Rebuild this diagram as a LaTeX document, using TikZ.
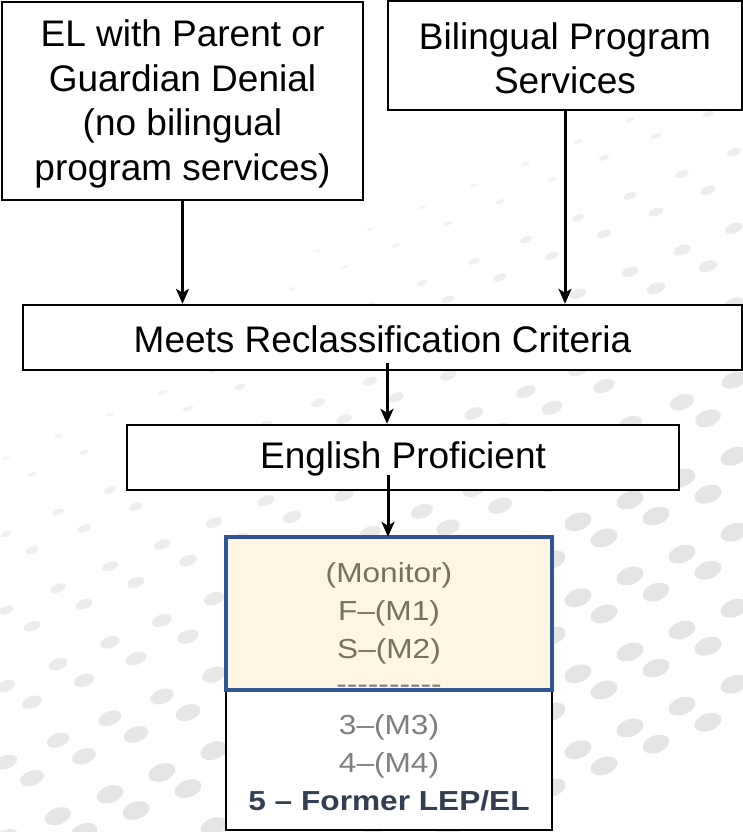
\documentclass[tikz,border=0pt]{standalone}
\usepackage{fontspec}
\setmainfont{Liberation Sans}
\newfontfamily\widefont{Liberation Sans}[FakeStretch=1.15]
\usetikzlibrary{arrows.meta}
\definecolor{bordblue}{HTML}{2F5597}
\definecolor{cream}{HTML}{FFF5E3}
\definecolor{olivegrey}{HTML}{77715F}
\definecolor{midgrey}{HTML}{7F7F7F}
\definecolor{navytext}{HTML}{333F50}
\begin{document}
\begin{tikzpicture}[x=1pt,y=-1pt,
  box/.style={draw=black, line width=2.4pt, fill=white, rectangle, inner sep=0pt},
  boxtext/.style={inner sep=0pt, align=center, font=\fontsize{37}{44.5}\selectfont},
  arr/.style={line width=3pt, -{Stealth[length=15pt,width=13pt,inset=4pt]}},
  monline/.style={anchor=base, inner sep=0pt, font=\widefont\fontsize{27.5}{38}\selectfont},
]
\useasboundingbox (0,0) rectangle (743,832);
\fill[white] (0,0) rectangle (743,832);
% background dot pattern
\begin{scope}
\clip (0,0) rectangle (743,832);
\foreach \k in {-8,...,26}{
 \foreach \m in {0,...,15}{
  \pgfmathsetmacro{\px}{\m*52 + mod(\k+8,2)*26 - 20}
  \pgfmathsetmacro{\py}{\k*38 + 40 - \m*52*0.42}
  \pgfmathsetmacro{\s}{min(1,max(0,(\py+0.6*\px-420)/450))}
  \ifdim \s pt > 0.04pt
    \pgfmathsetmacro{\rx}{3+11*\s}
    \pgfmathsetmacro{\ry}{0.6+8*\s}
    \pgfmathsetmacro{\cc}{4+6*\s}
    \fill[black!\cc, rotate around={20:(\px,\py)}] (\px,\py) ellipse ({\rx} and {\ry});
  \fi
 }
}
\end{scope}

% boxes
\node[box, minimum width=361pt, minimum height=198pt] (A) at (182.5,101) {};
\node[boxtext] (At) at (182.5,104)
  {EL with Parent or\\Guardian Denial\\(no bilingual\\program services)};
\node[box, minimum width=354pt, minimum height=109pt] (B) at (565,55.5) {};
\node[boxtext] (Bt) at (565,58.5) {Bilingual Program\\Services};
\node[box, minimum width=719pt, minimum height=65pt] (C) at (382.5,337.5) {};
\node[boxtext] (Ct) at (382.5,339) {Meets Reclassification Criteria};
\node[box, minimum width=552pt, minimum height=65pt] (D) at (403,457.5) {};
\node[boxtext] (Dt) at (403,459) {English Proficient};

% status box
\node[box, minimum width=326pt, minimum height=293pt] (F) at (389,683.5) {};
\node[fill=cream, minimum width=326pt, minimum height=153pt, inner sep=0pt] (E) at (389,613.5) {};
\node[monline, text=olivegrey] (m0) at (389,582) {(Monitor)};
\node[monline, text=olivegrey] (m1) at (389,620) {F–(M1)};
\node[monline, text=olivegrey] (m2) at (389,658) {S–(M2)};
\node[monline, text=midgrey] (m3) at (389,693.5) {----------};
\node[monline, text=midgrey] (m4) at (389,734) {3–(M3)};
\node[monline, text=midgrey] (m5) at (389,772) {4–(M4)};
\node[monline, text=navytext, font=\widefont\bfseries\fontsize{27.5}{38}\selectfont] (m6) at (389,810) {5 – Former LEP/EL};
\draw[bordblue, line width=3.5pt] (E.north west) rectangle (E.south east);

% connectors
\coordinate (c1) at (387,363);
\coordinate (d1) at (388,475);
\draw[arr] (A.south) -- (A.south |- C.north);
\draw[arr] (B.south) -- (B.south |- C.north);
\draw[arr] (c1) -- (c1 |- D.north);
\draw[arr] (d1) -- (d1 |- E.north);
\end{tikzpicture}
\end{document}
